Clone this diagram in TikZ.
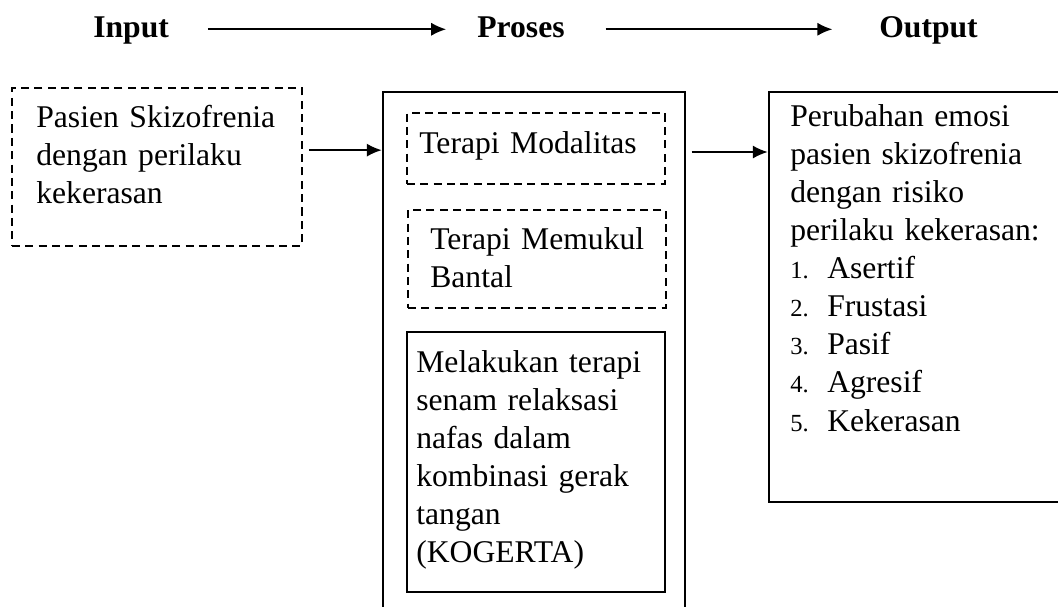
\documentclass[tikz,border=0pt]{standalone}
\usepackage{fontspec}
\setmainfont{Liberation Serif}
\usetikzlibrary{arrows.meta,positioning,fit}

\newcommand{\nomor}[1]{\makebox[21pt][l]{\fontsize{14}{14}\selectfont #1}}

\tikzset{
  judul/.style={font=\fontsize{18}{21.7}\selectfont\bfseries, inner sep=0pt, text height=12.5pt, text depth=3.7pt, anchor=base west},
  isi/.style={font=\fontsize{18}{21.7}\selectfont, inner sep=0pt, text width=5.4cm, align=left, anchor=base west},
  kotak/.style={draw, line width=1.5pt, inner sep=0pt},
  kotakputus/.style={draw, line width=1.2pt, dash pattern=on 4.6pt off 3pt, inner sep=0pt},
  panah/.style={-{Latex[length=8.5pt,width=7.5pt]}, line width=0.9pt}
}

\begin{document}
\begin{tikzpicture}[x=0.02cm, y=-0.02cm]
            \clip (0,0) rectangle (1058,606);

            % Headings
            \node[judul] (input) at (93,37) {Input};
            \node[judul] (proses) at (477,37) {Proses};
            \node[judul] (output) at (879,37) {Output};
            \draw[panah, shorten <=22pt, shorten >=17.6pt] (input) -- (proses);
            \draw[panah, shorten <=23.2pt, shorten >=26.6pt] (proses) -- (output);

            % Boxes
            \node[kotakputus, fit={(12,88) (302,246)}] (pasien) {};
            \node[kotak, fit={(383,92) (685,640)}] (tengah) {};
            \node[kotakputus, fit={(407,113) (665,184)}] (modalitas) {};
            \node[kotakputus, fit={(408,210) (666,308)}] (bantal) {};
            \node[kotak, line width=1.2pt, fit={(407,332) (665,592)}] (kogerta) {};
            \node[kotak, fit={(769,92) (1080,502)}] (luaran) {};

            % Texts
            \node[isi] (tpasien) at (36,127) {Pasien Skizofrenia\\dengan perilaku\\kekerasan};
            \node[isi] (tmodalitas) at (419,153) {Terapi Modalitas};
            \node[isi] (tbantal) at (430,249) {Terapi Memukul\\Bantal};
            \node[isi] (tkogerta) at (416,372) {Melakukan terapi\\senam relaksasi\\nafas dalam\\kombinasi gerak\\tangan\\(KOGERTA)};
            \node[isi] (tluaran) at (790,126) {Perubahan emosi\\pasien skizofrenia\\dengan risiko\\perilaku kekerasan:\\\nomor{1.}Asertif\\\nomor{2.}Frustasi\\\nomor{3.}Pasif\\\nomor{4.}Agresif\\\nomor{5.}Kekerasan};

            % Flow arrows
            \draw[panah, shorten <=3.5pt] ([yshift=9.6pt]pasien.east) -- ([yshift=9.6pt]pasien.east -| tengah.west);
            \draw[panah, shorten <=3pt] ([yshift=-2pt]modalitas.east -| tengah.east) -- ([yshift=-2pt]modalitas.east -| luaran.west);
\end{tikzpicture}
\end{document}
